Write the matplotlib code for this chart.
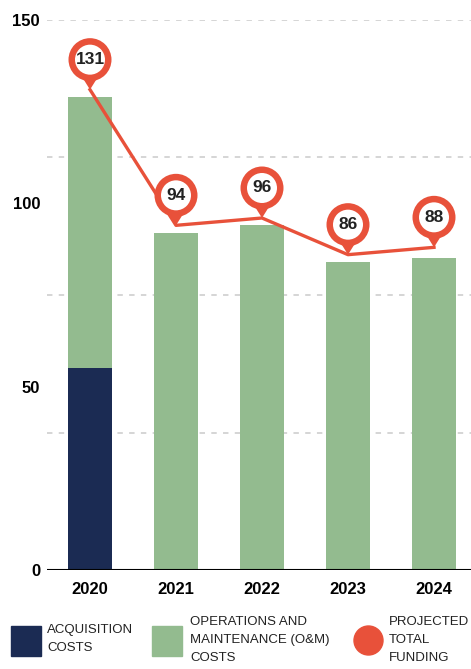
import matplotlib.pyplot as plt
from matplotlib.patches import Circle, Polygon, Rectangle
from matplotlib.transforms import ScaledTranslation

plt.rcParams['font.family'] = ['Liberation Sans', 'DejaVu Sans']

years = ["2020", "2021", "2022", "2023", "2024"]
acquisition = [55, 0, 0, 0, 0]
om_costs = [74, 92, 94, 84, 85]
funding = [131, 94, 96, 86, 88]
y_labels = [0, 50, 100, 150]
grid_levels = [37.5, 75, 112.5, 150]

navy = "#1b2b53"
green = "#93bb8f"
red = "#e8513a"

W, H = 471, 669
fig = plt.figure(figsize=(W / 100, H / 100), dpi=100)
ax = fig.add_axes([47 / W, 99 / H, 1 - 47 / W, 550 / H])

x = list(range(len(years)))
ax.bar(x, acquisition, width=0.52, color=navy, zorder=2)
ax.bar(x, om_costs, width=0.52, bottom=acquisition, color=green, zorder=2)

for g in grid_levels:
    ax.axhline(g, color="#d2d2d2", lw=1.3, ls=(0, (3, 3.5)), zorder=1)
ax.axhline(0, color="black", lw=1.5, zorder=3)

ax.plot(x, funding, color=red, lw=2.4, zorder=4, clip_on=False)

# pins
for xi, v in zip(x, funding):
    tr = fig.dpi_scale_trans + ScaledTranslation(xi, v, ax.transData)
    tri = Polygon([(-0.10, 0.16), (0.10, 0.16), (0, 0)], closed=True,
                  facecolor=red, edgecolor="none", transform=tr, zorder=5, clip_on=False)
    outer = Circle((0, 0.30), 0.215, facecolor=red, edgecolor="none",
                   transform=tr, zorder=5, clip_on=False)
    inner = Circle((0, 0.30), 0.15, facecolor="white", edgecolor="none",
                   transform=tr, zorder=6, clip_on=False)
    for p in (tri, outer, inner):
        ax.add_patch(p)
    ax.annotate(str(v), (xi, v), xytext=(0, 30 * 0.72), textcoords="offset points",
                ha="center", va="center", fontsize=12.5, fontweight="bold",
                color="#222222", zorder=7, annotation_clip=False)

ax.set_xlim(-0.5, -0.5 + 424 / 86)
ax.set_ylim(0, 150)
ax.set_xticks(x)
ax.set_xticklabels(years, fontsize=12, fontweight="bold")
ax.set_yticks(y_labels)
ax.set_yticklabels([str(v) for v in y_labels], fontsize=12, fontweight="bold")
ax.tick_params(axis="both", length=0)
ax.tick_params(axis="x", pad=9)
ax.tick_params(axis="y", pad=5)
for s in ax.spines.values():
    s.set_visible(False)


# legend drawn in pixel coordinates
def fx(px):
    return px / W


def fy(py):
    return 1 - py / H


fig.add_artist(Rectangle((fx(11), fy(656)), 30 / W, 30 / H, color=navy, transform=fig.transFigure))
fig.add_artist(Rectangle((fx(152), fy(656)), 30 / W, 30 / H, color=green, transform=fig.transFigure))
fig.add_artist(plt.Line2D([fx(368)], [fy(640)], marker="o", markersize=29 * 0.72,
                          color=red, transform=fig.transFigure))

legend_texts = [
    (47, ["ACQUISITION", "COSTS"], 630),
    (190, ["OPERATIONS AND", "MAINTENANCE (O&M)", "COSTS"], 622),
    (389, ["PROJECTED", "TOTAL", "FUNDING"], 622),
]
for px, lines, py0 in legend_texts:
    for i, line in enumerate(lines):
        fig.text(fx(px), fy(py0 + 18 * i), line, fontsize=9.5, color="#222222",
                 ha="left", va="center")

fig.savefig("out.png", dpi=100)
